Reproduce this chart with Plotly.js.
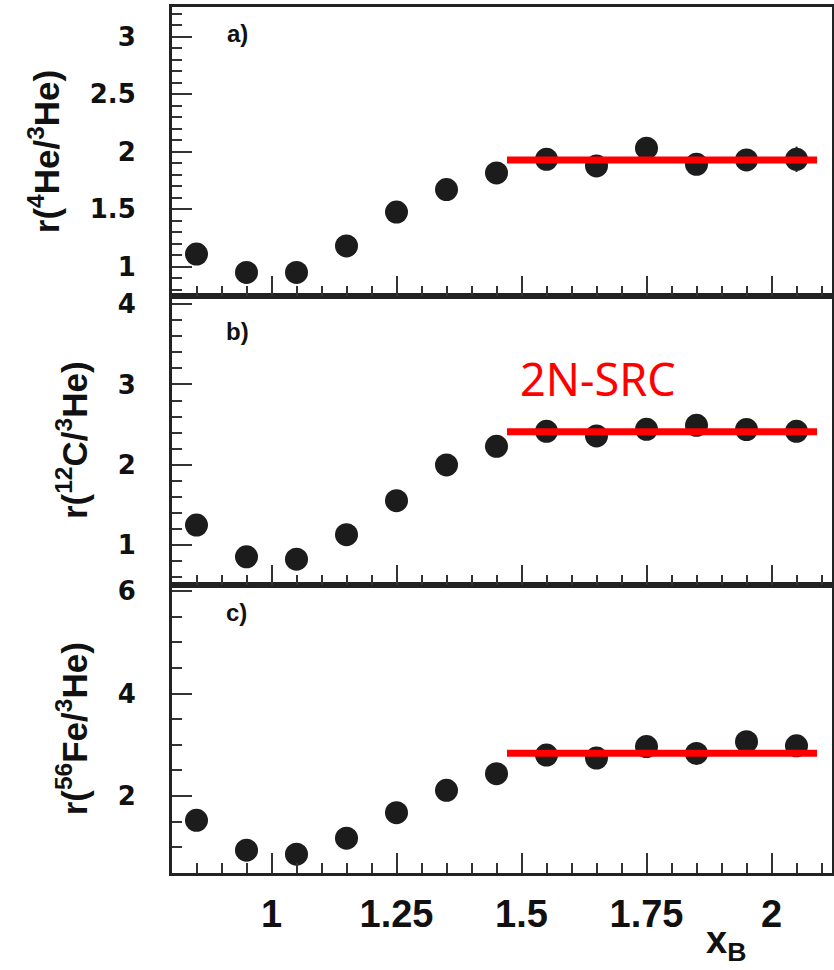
<!DOCTYPE html>
<html>
<head>
<meta charset="utf-8">
<script src="https://cdn.plot.ly/plotly-3.0.1.min.js"></script>
<style>html,body{margin:0;padding:0;background:#fff;}#chart{width:834px;height:970px;}</style>
</head>
<body>
<div id="chart"></div>
<script>
// ---- data ----
const xB = [0.85, 0.95, 1.05, 1.15, 1.25, 1.35, 1.45, 1.55, 1.65, 1.75, 1.85, 1.95, 2.05];
const rHe4 = [1.11, 0.95, 0.95, 1.18, 1.475, 1.67, 1.815, 1.934, 1.876, 2.03, 1.89, 1.928, 1.934];
const errHe4 = [0, 0, 0, 0, 0, 0, 0, 0, 0, 0, 0, 0, 0.11];
const rC12 = [1.246, 0.85, 0.82, 1.125, 1.55, 1.996, 2.229, 2.416, 2.358, 2.44, 2.49, 2.437, 2.416];
const rFe56 = [1.526, 0.942, 0.864, 1.175, 1.675, 2.11, 2.435, 2.80, 2.74, 2.965, 2.83, 3.06, 2.98];

const plateauX = [1.471, 2.091];
const plateauHe4 = [1.928, 1.928];
const plateauC12 = [2.41, 2.41];
const plateauFe56 = [2.835, 2.835];

const xTickVals = [1, 1.25, 1.5, 1.75, 2];
const xTickText = ['1', '1.25', '1.5', '1.75', '2'];
const yTickValsA = [1, 1.5, 2, 2.5, 3];
const yTickTextA = ['1', '1.5', '2', '2.5', '3'];
const yTickValsB = [1, 2, 3, 4];
const yTickTextB = ['1', '2', '3', '4'];
const yTickValsC = [2, 4, 6];
const yTickTextC = ['2', '4', '6'];

const panelLabels = ['a)', 'b)', 'c)'];
const yTitles = ['r(<sup>4</sup>He/<sup>3</sup>He)', 'r(<sup>12</sup>C/<sup>3</sup>He)', 'r(<sup>56</sup>Fe/<sup>3</sup>He)'];
const bandLabel = '2N-SRC';

// ---- styling ----
const INK = '#1c1c1c';
const RED = '#ff0000';
const mk = {color: INK, size: 23};

function pts(y, xa, ya, err) {
  const t = {x: xB, y: y, xaxis: xa, yaxis: ya, type: 'scatter', mode: 'markers',
    marker: mk, showlegend: false, hoverinfo: 'x+y'};
  if (err) t.error_y = {type: 'data', array: err, visible: true, color: INK, thickness: 2, width: 0};
  return t;
}
function plateau(y, xa, ya) {
  return {x: plateauX, y: y, xaxis: xa, yaxis: ya, type: 'scatter', mode: 'lines',
    line: {color: RED, width: 7}, showlegend: false, hoverinfo: 'skip'};
}

const data = [
  pts(rHe4, 'x3', 'y3', errHe4), plateau(plateauHe4, 'x3', 'y3'),
  pts(rC12, 'x2', 'y2'), plateau(plateauC12, 'x2', 'y2'),
  pts(rFe56, 'x', 'y'), plateau(plateauFe56, 'x', 'y')
];

const XR = [0.801, 2.121];
function xax(anchor, showLabels) {
  return {
    domain: [0, 1], anchor: anchor, range: XR, showgrid: false, zeroline: false,
    showline: true, mirror: true, linecolor: '#222', linewidth: 3,
    ticks: 'inside', ticklen: 20, tickwidth: 2, tickcolor: '#333',
    tickvals: xTickVals, ticktext: xTickText, showticklabels: showLabels,
    ticklabelstandoff: 5,
    tickfont: {family: 'Liberation Sans, Arial, sans-serif', size: 38, color: '#111', weight: 'bold'},
    minor: {dtick: 0.05, ticks: 'inside', ticklen: 10, tickwidth: 2, tickcolor: '#333', showgrid: false},
    fixedrange: true
  };
}
function yax(domain, range, tv, tt, minorDt, title, anchor) {
  return {
    domain: domain, anchor: anchor, range: range, showgrid: false, zeroline: false,
    showline: true, mirror: true, linecolor: '#222', linewidth: 3,
    ticks: 'inside', ticklen: 20, tickwidth: 2, tickcolor: '#333',
    tickvals: tv, ticktext: tt, ticklabelstandoff: 28,
    tickfont: {family: 'DejaVu Sans, sans-serif', size: 26, color: '#111', weight: 'bold'},
    minor: {dtick: minorDt, ticks: 'inside', ticklen: 10, tickwidth: 2, tickcolor: '#333', showgrid: false},
    title: {text: title, standoff: 20,
      font: {family: 'Liberation Sans, Arial, sans-serif', size: 35, color: '#111', weight: 'bold'}},
    fixedrange: true
  };
}

const H = 866;
const dA = [1 - 289 / H, 1];
const dB = [288.5 / H, 1 - 289 / H];
const dC = [0, 288.5 / H];

const layout = {
  width: 834, height: 970,
  margin: {l: 172, r: 2, t: 7, b: 97, pad: 0},
  paper_bgcolor: '#ffffff', plot_bgcolor: '#ffffff',
  showlegend: false,
  xaxis: xax('y', true),
  xaxis2: Object.assign(xax('y2', false), {matches: 'x'}),
  xaxis3: Object.assign(xax('y3', false), {matches: 'x'}),
  yaxis: yax(dC, [0.496, 6.13], yTickValsC, yTickTextC, 0.5, yTitles[2], 'x'),
  yaxis2: yax(dB, [0.504, 4.104], yTickValsB, yTickTextB, 0.2, yTitles[1], 'x2'),
  yaxis3: yax(dA, [0.745, 3.258], yTickValsA, yTickTextA, 0.1, yTitles[0], 'x3'),
  annotations: [
    {text: panelLabels[0], xref: 'paper', yref: 'paper', x: (237 - 172) / 660, y: 1 - (33 - 7) / H,
      xanchor: 'center', yanchor: 'middle', showarrow: false,
      font: {family: 'Liberation Sans, Arial, sans-serif', size: 24, color: '#111', weight: 'bold'}},
    {text: panelLabels[1], xref: 'paper', yref: 'paper', x: (237 - 172) / 660, y: 1 - (331 - 7) / H,
      xanchor: 'center', yanchor: 'middle', showarrow: false,
      font: {family: 'Liberation Sans, Arial, sans-serif', size: 24, color: '#111', weight: 'bold'}},
    {text: panelLabels[2], xref: 'paper', yref: 'paper', x: (236 - 172) / 660, y: 1 - (612 - 7) / H,
      xanchor: 'center', yanchor: 'middle', showarrow: false,
      font: {family: 'Liberation Sans, Arial, sans-serif', size: 24, color: '#111', weight: 'bold'}},
    {text: bandLabel, xref: 'paper', yref: 'paper', x: (518 - 172) / 660, y: 1 - (378 - 7) / H,
      xanchor: 'left', yanchor: 'middle', showarrow: false,
      font: {family: 'Noto Sans, sans-serif', size: 45, color: RED}},
    {text: 'x<sub>B</sub>', xref: 'paper', yref: 'paper', x: (726 - 172) / 660, y: 1 - (943 - 7) / H,
      xanchor: 'center', yanchor: 'middle', showarrow: false,
      font: {family: 'Liberation Sans, Arial, sans-serif', size: 38, color: '#111', weight: 'bold'}}
  ]
};

Plotly.newPlot('chart', data, layout, {staticPlot: true, displayModeBar: false});
</script>
</body>
</html>
